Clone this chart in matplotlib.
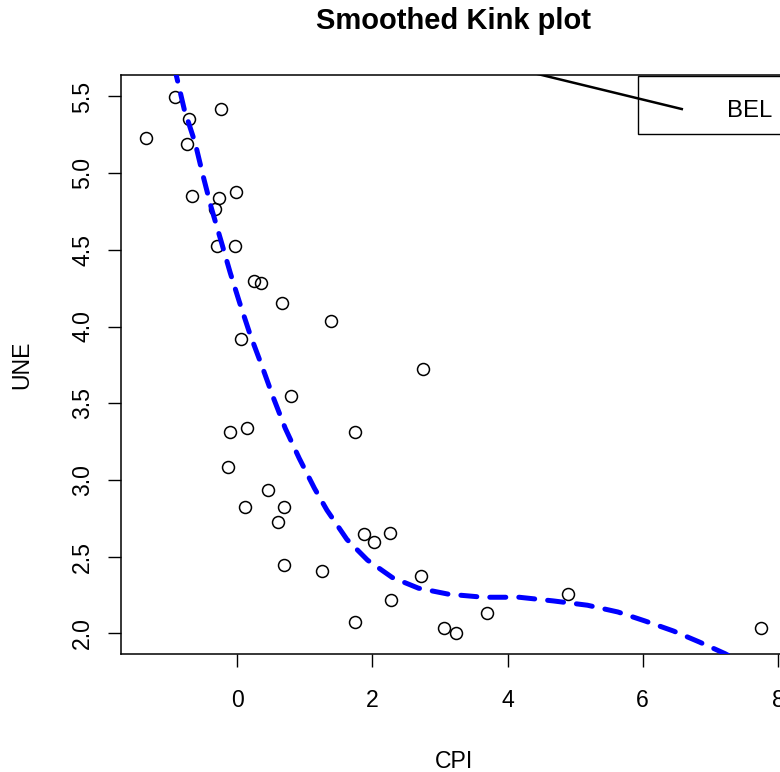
import matplotlib
matplotlib.use("Agg")
import matplotlib.pyplot as plt
from matplotlib.patches import Rectangle

plt.rcParams['font.family'] = ['Liberation Sans', 'DejaVu Sans']

# scatter points (CPI, UNE)
cpi = [-1.357, -0.917, -0.247, -0.72, -0.744, -0.676, -0.266, -0.025, -0.336,
       -0.296, -0.04, 0.251, 0.35, 0.661, 1.386, 0.049, 0.794, 2.751, -0.108,
       0.138, 1.746, -0.133, 0.459, 0.114, 0.685, 0.597, 0.685, 1.253, 1.883,
       2.027, 2.253, 2.722, 2.273, 1.746, 3.062, 3.244, 3.703, 4.901, 7.756]
une = [5.227, 5.498, 5.418, 5.355, 5.187, 4.848, 4.839, 4.876, 4.767,
       4.528, 4.528, 4.297, 4.286, 4.155, 4.036, 3.916, 3.546, 3.722, 3.315,
       3.337, 3.315, 3.084, 2.936, 2.825, 2.825, 2.725, 2.446, 2.405, 2.645,
       2.594, 2.655, 2.374, 2.216, 2.074, 2.035, 2.005, 2.135, 2.255, 2.033]

# smoothed curve
curve_x = [-0.95, -0.902, -0.784, -0.621, -0.507, -0.385, -0.237, -0.104, 0.034,
           0.192, 0.37, 0.537, 0.71, 0.917, 1.143, 1.327, 1.623, 1.928, 2.293,
           2.682, 3.126, 3.643, 4.172, 4.679, 5.182, 5.632, 6.036, 6.454, 6.839,
           7.219, 7.5]
curve_y = [5.70, 5.638, 5.416, 5.194, 4.985, 4.776, 4.554, 4.351, 4.157,
           3.946, 3.737, 3.533, 3.337, 3.141, 2.945, 2.803, 2.612, 2.477, 2.364,
           2.294, 2.255, 2.235, 2.235, 2.211, 2.183, 2.139, 2.080, 2.015, 1.943,
           1.867, 1.80]

# black segment near the legend
seg_x = [4.3, 6.578]
seg_y = [5.662, 5.418]

legend_label = "BEL"

fig = plt.figure(figsize=(7.8, 7.72), dpi=100)
ax = fig.add_axes([121/780, 1 - 654/772, (786 - 121)/780, (654 - 75)/772])

ax.plot(cpi, une, 'o', mfc='none', mec='black', ms=8.6, mew=1.1, zorder=3)
ax.plot(curve_x, curve_y, color='#0000ff', lw=3.6, ls=(0, (3.2, 2.6)),
        dash_capstyle='round', zorder=4)

ax.add_patch(Rectangle((5.93, 5.253), 3.0, 0.379, facecolor='white',
                       edgecolor='black', lw=1.0, zorder=5))
ax.plot(seg_x, seg_y, color='black', lw=1.8, zorder=6)
ax.text(7.25, 5.405, legend_label, fontsize=17.2, va='center', ha='left', zorder=7)

ax.set_xlim(-1.72, 8.12)
ax.set_ylim(1.865, 5.64)
ax.set_xticks([0, 2, 4, 6, 8])
ax.set_yticks([2.0, 2.5, 3.0, 3.5, 4.0, 4.5, 5.0, 5.5])
ax.set_yticklabels(["2.0", "2.5", "3.0", "3.5", "4.0", "4.5", "5.0", "5.5"],
                   rotation=90, va='center')
ax.tick_params(axis='both', length=9.4, width=1.0, labelsize=16.6)
ax.tick_params(axis='x', pad=16)
ax.tick_params(axis='y', pad=10)

for s in ax.spines.values():
    s.set_linewidth(1.1)

ax.set_xlabel("CPI", fontsize=16.6, labelpad=27)
ax.set_ylabel("UNE", fontsize=16.6, labelpad=27)
ax.set_title("Smoothed Kink plot", fontsize=21, fontweight='bold', pad=33)

fig.savefig("out.png", dpi=100)
